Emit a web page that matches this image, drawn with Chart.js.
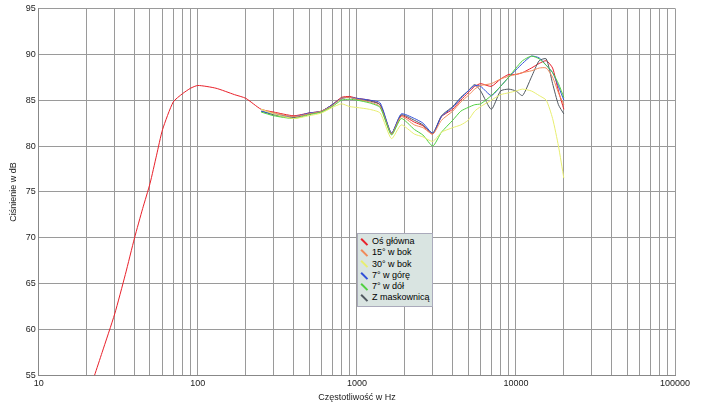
<!DOCTYPE html>
<html><head><meta charset="utf-8">
<script src="https://cdn.jsdelivr.net/npm/chart.js@4"></script>
<style>
body{margin:0;background:#fff;font-family:"Liberation Sans",Arial,sans-serif}
#wrap{position:relative;width:705px;height:403px}
#legend{position:absolute;left:357px;top:233px;width:70px;background:#d9e4e1;border:1px solid #aab;font-size:9px;padding:2px 2px;line-height:11.3px}
#legend div{white-space:nowrap}
#legend span{display:inline-block;width:9px;height:1.5px;margin-right:3px;vertical-align:middle;transform:rotate(45deg)}
</style></head><body>
<div id="wrap"><canvas id="c" width="705" height="403"></canvas><div id="legend"></div></div>
<script>
const labels = ["Oś główna","15° w bok","30° w bok","7° w górę","7° w dół","Z maskownicą"];
const colors = ["#e8202a","#f08a5a","#e8ee70","#3050d8","#50d040","#505860"];
const lowFreq = [22.4,25,30,35,40,45,50,55,60,70,80,90,100,130,170,200];
const lowRed  = [55,57.5,61.7,66,70,73.2,75.9,79,81.8,84.8,85.7,86.3,86.6,86.3,85.6,85.2];
const freq = [250,300,400,500,600,700,800,900,1000,1200,1400,1650,1900,2300,2600,3000,3400,4000,4500,5000,5500,6000,7000,8000,9000,10000,11000,12500,14000,15500,17000,18500,20000];
const red    = [84,83.7,83.3,83.6,83.8,84.5,85.3,85.4,85.2,85,84.5,81.3,83.3,82.6,82.2,81.3,83.2,84,85,85.8,86.5,86.8,86.5,87.3,87.8,87.8,88,88.5,89,89.3,88.5,86,84];
const orange = [84,83.6,83.2,83.5,83.8,84.4,85.2,85.3,85.1,84.8,84.3,81.3,83.2,82.3,82,81.3,82.8,83.8,84.8,85.5,86.2,86.6,86.8,87.3,87.6,87.8,88,88.2,88.5,88.5,87.5,85.8,84.5];
const yellow = [84,83.5,83,83.3,83.6,84.2,84.6,84.3,84.2,84,83.6,80.8,82.3,81.3,81,80.5,81.5,82,82.3,82.8,83.8,84.3,85,85.6,85.8,86,86.2,86,85.5,85,83,80,76.5];
const blue   = [83.8,83.5,83.2,83.6,83.8,84.5,85.2,85.3,85.2,85,84.7,81.4,83.5,83,82.5,81.4,83.2,84.2,85.2,86,86.6,86.5,85.5,86.5,87.5,88.3,89,89.8,89.6,88.8,88,86.5,85];
const green  = [83.7,83.3,83,83.4,83.7,84.3,85,85.1,85,84.7,84.2,81.2,83,81.8,81.2,80,81.5,82.8,83.8,84.2,84.5,84.6,85.5,86.5,87.5,88.5,89.3,89.8,89.5,88.8,88,86.8,85.3];
const gray   = [83.8,83.4,83.1,83.5,83.8,84.5,85.2,85.3,85.1,84.9,84.5,81.4,83.4,82.8,82.3,81.4,83.3,84.3,85.3,86,86.7,86,84,86,86.2,86,85.5,87.5,89.3,89.5,86.8,84.5,83.5];

const pts = (xs,ys)=>xs.map((x,i)=>({x,y:ys[i]}));
const series = [
  pts(lowFreq,lowRed).concat(pts(freq,red)),
  pts(freq,orange), pts(freq,yellow), pts(freq,blue), pts(freq,green), pts(freq,gray)
];
const order = [2,4,1,3,5,0];

const ticksX = [];
for(let d=10; d<100000; d*=10) for(let k=1;k<10;k++) ticksX.push(d*k);
ticksX.push(100000);

new Chart(document.getElementById("c"),{
  type:"line",
  data:{datasets: order.map(i=>({label:labels[i],data:series[i],borderColor:colors[i],borderWidth:1,pointRadius:0,tension:0.2,fill:false}))},
  options:{
    responsive:false,animation:false,
    layout:{padding:{right:30,top:6,left:4}},
    plugins:{legend:{display:false},tooltip:{enabled:false}},
    scales:{
      x:{type:"logarithmic",min:10,max:100000,
        afterBuildTicks:s=>{s.ticks=ticksX.map(v=>({value:v}));},
        ticks:{autoSkip:false,maxRotation:0,color:"#222",font:{size:9},
          callback:v=>[10,100,1000,10000,100000].includes(v)?String(v):""},
        grid:{color:"#9a9a9a",drawTicks:false},border:{color:"#888"},
        title:{display:true,text:"Częstotliwość w Hz",color:"#222",font:{size:9},padding:0}},
      y:{min:55,max:95,
        ticks:{stepSize:5,color:"#222",font:{size:9}},
        grid:{color:"#9a9a9a",drawTicks:false},border:{color:"#888"},
        title:{display:true,text:"Ciśnienie w dB",color:"#222",font:{size:9}}}
    }
  }
});

document.getElementById("legend").innerHTML = labels.map((l,i)=>
  `<div><span style="background:${colors[i]}"></span>${l}</div>`).join("");
</script>
</body></html>
